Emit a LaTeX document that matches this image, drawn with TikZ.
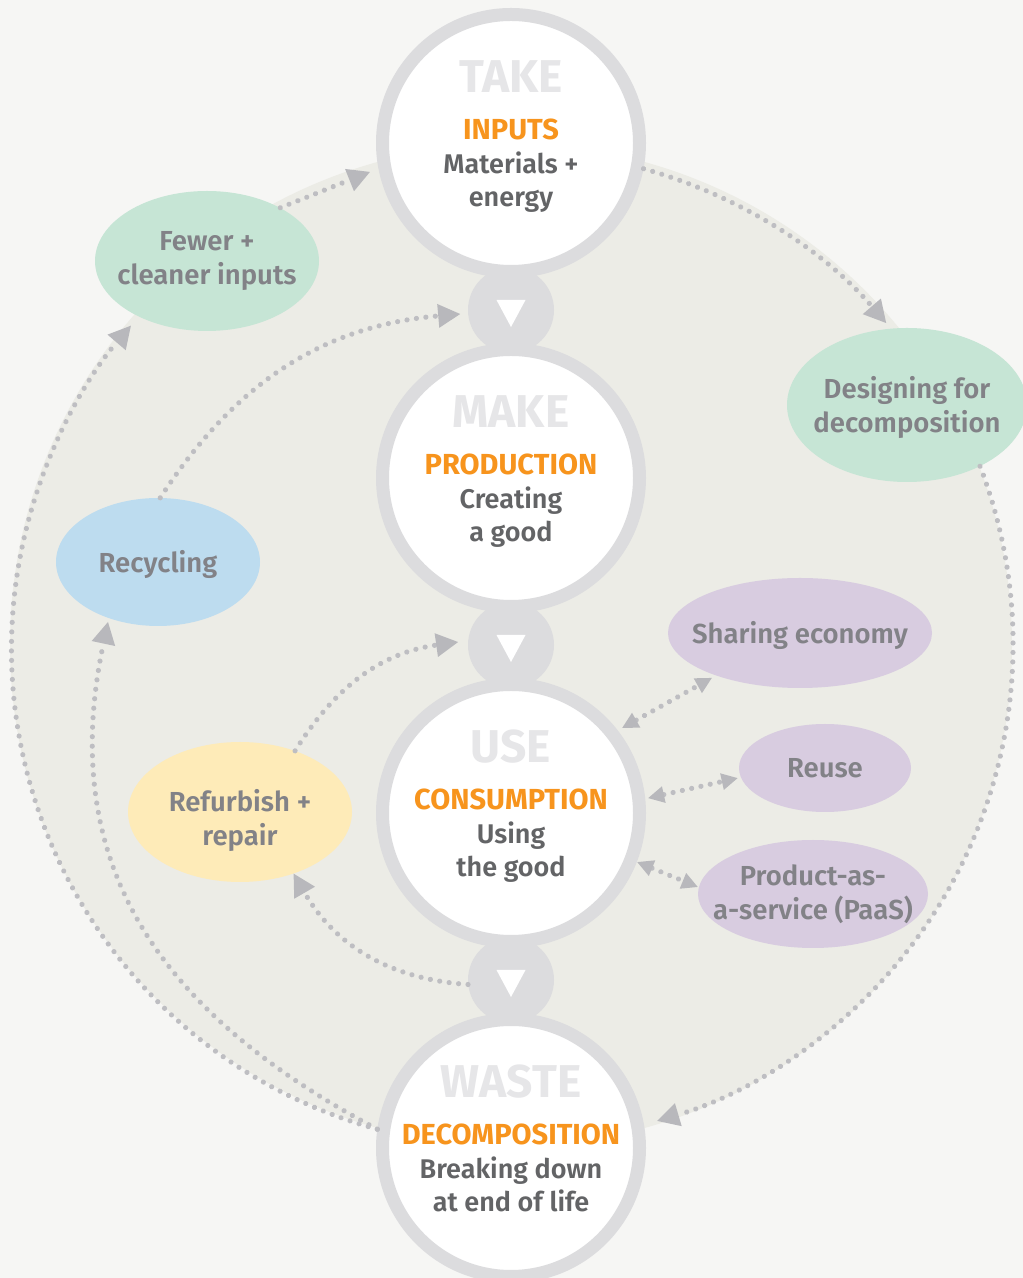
\documentclass[tikz,border=0pt]{standalone}
\usepackage{fontspec}
\setmainfont{Fira Sans}[UprightFont=* SemiBold, BoldFont=* Bold]
\usetikzlibrary{arrows.meta,calc,shapes.geometric}
\definecolor{bgpage}{HTML}{F6F6F4}
\definecolor{bigdisc}{HTML}{ECECE6}
\definecolor{ring}{HTML}{DCDCDE}
\definecolor{stagegray}{HTML}{E6E6E8}
\definecolor{orangec}{HTML}{F7941D}
\definecolor{darktext}{HTML}{636466}
\definecolor{elltext}{HTML}{828287}
\definecolor{dotcol}{HTML}{BEBEC2}
\definecolor{tipcol}{HTML}{B8B8BC}
\definecolor{greenell}{HTML}{C6E5D5}
\definecolor{blueell}{HTML}{BDDCEF}
\definecolor{yellowell}{HTML}{FEEBB8}
\definecolor{purpleell}{HTML}{D8CCE0}
\tikzset{
  stage/.style={circle, draw=ring, line width=13pt, fill=white, minimum size=257pt, inner sep=0pt},
  linkdisc/.style={circle, fill=ring, minimum size=86pt, inner sep=0pt},
  blob/.style={ellipse, inner sep=0pt},
  blobtxt/.style={inner sep=0pt, text=elltext, align=center, font=\fontsize{27.5}{34}\selectfont},
  stagelbl/.style={anchor=base, inner sep=0pt, text=stagegray, font=\bfseries\fontsize{46}{46}\selectfont},
  stagehead/.style={anchor=base, inner sep=0pt, text=orangec, font=\bfseries\fontsize{29}{29}\selectfont},
  stagetxt/.style={anchor=base, inner sep=0pt, text=darktext, font=\fontsize{27}{27}\selectfont},
  dotline/.style={draw=dotcol, line width=5.2pt, line cap=round, dash pattern=on 0.01pt off 9.5pt},
  onearrow/.style={dotline, -{Triangle[length=22pt, width=24pt, line width=0pt, color=tipcol]}},
  twoarrow/.style={dotline, {Triangle[length=16pt, width=17pt, line width=0pt, color=tipcol]}-{Triangle[length=16pt, width=17pt, line width=0pt, color=tipcol]}}
}
\begin{document}
\begin{tikzpicture}[x=1pt, y=1pt]
\useasboundingbox (0,0) rectangle (1023,1278);
\fill[bgpage] (0,0) rectangle (1023,1278);
\coordinate (hub) at (511,633);
\fill[bigdisc] (hub) circle[radius=501pt];

% connector discs
\node[linkdisc] (c1) at (511,968) {};
\node[linkdisc] (c2) at (511,633) {};
\node[linkdisc] (c3) at (511,298) {};
\foreach \c in {c1,c2,c3} {
  \fill[white] ($(\c)+(-14.5,10)$) -- ($(\c)+(14.5,10)$) -- ($(\c)+(0,-17)$) -- cycle;
}

% stage circles
\node[stage] (take) at (511,1135) {};
\node[stage] (make) at (511,800) {};
\node[stage] (use) at (511,465) {};
\node[stage] (waste) at (511,130) {};

\node[stagelbl] (takeL) at ($(take)+(0,50)$) {TAKE};
\node[stagehead] (takeH) at ($(take)+(0,3)$) {INPUTS};
\node[stagetxt] (takeA) at ($(take)+(0,-31)$) {Materials +};
\node[stagetxt] (takeB) at ($(take)+(0,-64)$) {energy};

\node[stagelbl] (makeL) at ($(make)+(0,50)$) {MAKE};
\node[stagehead] (makeH) at ($(make)+(0,3)$) {PRODUCTION};
\node[stagetxt] (makeA) at ($(make)+(0,-31)$) {Creating};
\node[stagetxt] (makeB) at ($(make)+(0,-64)$) {a good};

\node[stagelbl] (useL) at ($(use)+(0,50)$) {USE};
\node[stagehead] (useH) at ($(use)+(0,3)$) {CONSUMPTION};
\node[stagetxt] (useA) at ($(use)+(0,-31)$) {Using};
\node[stagetxt] (useB) at ($(use)+(0,-64)$) {the good};

\node[stagelbl] (wasteL) at ($(waste)+(0,50)$) {WASTE};
\node[stagehead] (wasteH) at ($(waste)+(0,3)$) {DECOMPOSITION};
\node[stagetxt] (wasteA) at ($(waste)+(0,-31)$) {Breaking down};
\node[stagetxt] (wasteB) at ($(waste)+(0,-64)$) {at end of life};

% ellipses
\node[blob, fill=greenell, minimum width=224pt, minimum height=140pt] (fewer) at (207,1017) {};
\node[blob, fill=greenell, minimum width=240pt, minimum height=154pt] (design) at (907,873) {};
\node[blob, fill=blueell, minimum width=204pt, minimum height=128pt] (recyc) at (158,716) {};
\node[blob, fill=yellowell, minimum width=224pt, minimum height=140pt] (refurb) at (240,466) {};
\node[blob, fill=purpleell, minimum width=264pt, minimum height=110pt] (sharing) at (800,645) {};
\node[blob, fill=purpleell, minimum width=172pt, minimum height=88pt] (reuse) at (825,510) {};
\node[blob, fill=purpleell, minimum width=230pt, minimum height=108pt] (paas) at (813,384) {};

\node[blobtxt] (fewerT) at (fewer) {Fewer +\\cleaner inputs};
\node[blobtxt] (designT) at ($(design)+(0,-2)$) {Designing for\\decomposition};
\node[blobtxt] (recycT) at ($(recyc)+(0,-2)$) {Recycling};
\node[blobtxt] (refurbT) at ($(refurb)+(0,-8)$) {Refurbish +\\repair};
\node[blobtxt] (sharingT) at ($(sharing)+(0,-2)$) {Sharing economy};
\node[blobtxt] (reuseT) at (reuse) {Reuse};
\node[blobtxt] (paasT) at (paas) {Product-as-\\a-service (PaaS)};

% connectors
\coordinate (takeIn) at ($(take.center)+(191.6:144)$);
\coordinate (recycIn) at ($(recyc.center)+(-50,-60)$);
\coordinate (c1In) at ($(c1)+(184.5:51)$);
\coordinate (c2In) at ($(c2)+(176.8:53)$);

\draw[onearrow] (fewer.36) -- (takeIn);
\draw[onearrow] (waste.172) arc[start angle=254.6, end angle=139.5, radius=498pt];
\draw[onearrow] (waste.172) to[out=152, in=258, looseness=1.1] (recycIn);
\draw[onearrow] (recyc.88) to[out=57, in=185] (c1In);
\draw[onearrow] (refurb.48) to[out=58, in=188] (c2In);
\draw[onearrow] (c3.186) to[out=176, in=300] (refurb.-49);
\draw[onearrow] (take.-11) arc[start angle=74.4, end angle=40.7, radius=496pt];
\draw[onearrow] (design.-40) arc[start angle=21, end angle=-73.5, radius=497pt];

\draw[twoarrow] ($(use)+(37.4:140)$) -- ($(sharing)+(207:99)$);
\draw[twoarrow] ($(use)+(6.2:138)$) -- ($(reuse)+(186.6:88)$);
\draw[twoarrow] ($(use)+(-21.25:135.5)$) -- ($(paas)+(176.5:115.5)$);
\end{tikzpicture}
\end{document}
